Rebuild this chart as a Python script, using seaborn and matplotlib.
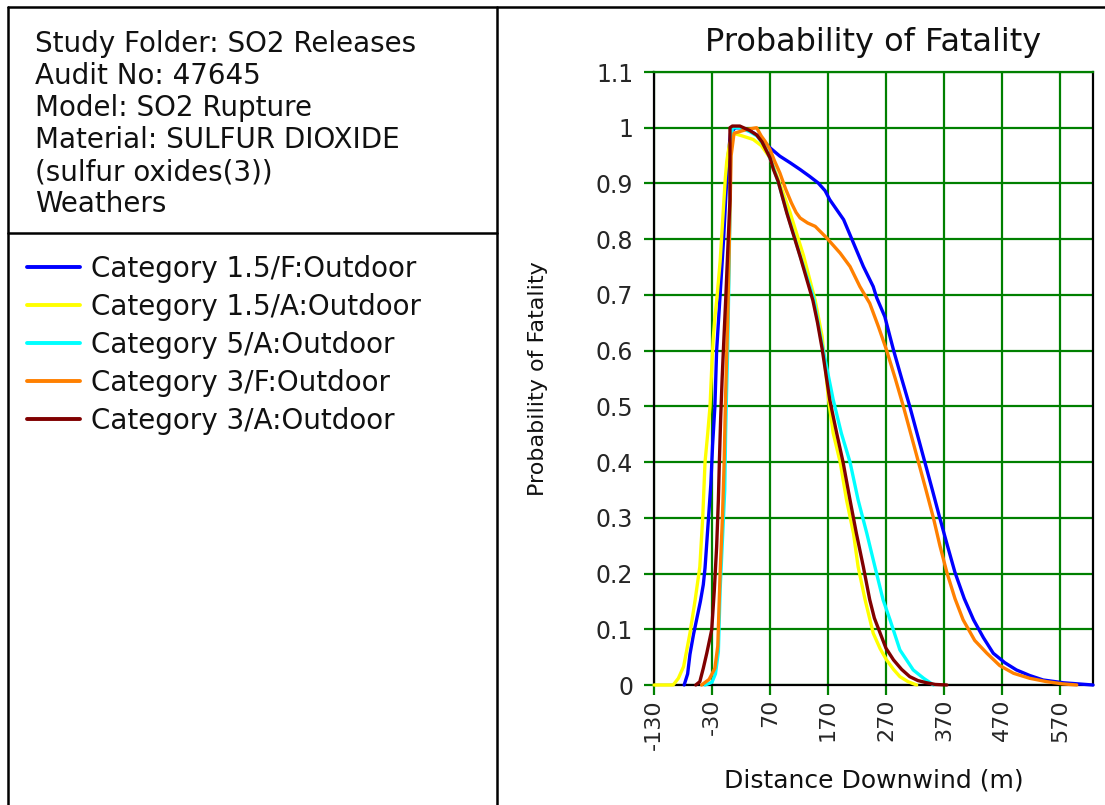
import numpy as np
import pandas as pd
import matplotlib
matplotlib.use("Agg")
import matplotlib.pyplot as plt
from matplotlib.lines import Line2D
import seaborn as sns

# ---------------- data ----------------
series_names = ["Category 1.5/F:Outdoor", "Category 1.5/A:Outdoor",
                "Category 5/A:Outdoor", "Category 3/F:Outdoor",
                "Category 3/A:Outdoor"]
series_colors = ["#0000FF", "#FFFF00", "#00FFFF", "#FF8000", "#800000"]

x_15F = [-78, -72, -68, -62, -56, -50, -45, -42, -36, -32, -29, -25, -22, -19, -16, -13, -10, -6, -2, 2,
         10, 20, 35, 50, 60, 70, 87, 105, 122, 138, 153, 165, 173, 185, 197, 214, 231, 248, 254, 268,
         283, 297, 311, 324, 337, 350, 363, 376, 389, 405, 421, 438, 455, 475, 495, 518, 541, 576, 627]
y_15F = [0.0, 0.02, 0.055, 0.09, 0.12, 0.15, 0.18, 0.21, 0.30, 0.36, 0.43, 0.50, 0.60, 0.65, 0.70, 0.75,
         0.80, 0.88, 0.95, 0.99, 1.0, 1.0, 0.995, 0.985, 0.975, 0.964, 0.949, 0.937, 0.925, 0.913, 0.901,
         0.887, 0.871, 0.853, 0.835, 0.793, 0.751, 0.715, 0.695, 0.661, 0.601, 0.55, 0.50, 0.45, 0.40,
         0.35, 0.299, 0.25, 0.202, 0.155, 0.117, 0.085, 0.057, 0.04, 0.027, 0.017, 0.009, 0.004, 0.0]

x_15A = [-130, -97, -88, -79, -74, -68, -59, -51, -46, -42, -37.5, -33.4, -30, -28, -25, -21, -16, -13,
         -10, -7, -4.5, 0, 7, 20, 41, 55, 70, 85, 104, 128, 148, 160, 171, 179, 191, 202, 214, 222, 234,
         248, 260, 271, 283, 294, 308, 323]
y_15A = [0, 0, 0.012, 0.033, 0.06, 0.093, 0.153, 0.212, 0.30, 0.40, 0.45, 0.50, 0.58, 0.62, 0.66, 0.70,
         0.76, 0.81, 0.86, 0.91, 0.94, 0.97, 0.99, 0.986, 0.979, 0.968, 0.946, 0.905, 0.85, 0.77, 0.69,
         0.625, 0.512, 0.452, 0.40, 0.332, 0.272, 0.212, 0.153, 0.093, 0.065, 0.045, 0.028, 0.015, 0.006, 0.0]

x_5A = [-42, -30, -24, -19, -16, -12, -8, -6.5, -5, -3, -1, 1, 2, 5, 18, 35, 48, 62, 72, 85,
        100, 122, 145, 160, 179, 193, 208, 222, 237, 251, 265, 277, 294, 317, 335, 352]
y_5A = [0, 0.005, 0.02, 0.06, 0.17, 0.26, 0.35, 0.45, 0.52, 0.60, 0.72, 0.85, 0.95, 1.0, 1.0, 0.993,
        0.985, 0.965, 0.94, 0.90, 0.845, 0.77, 0.695, 0.61, 0.512, 0.452, 0.40, 0.332, 0.272, 0.212,
        0.153, 0.117, 0.063, 0.027, 0.012, 0.0]

x_3F = [-48, -35, -25, -20, -16, -12, -9, -7, -5.5, -3, -1, 1, 3, 8, 30, 47, 55, 62, 70, 78,
        87, 97, 107, 115, 122, 135, 148, 168, 191, 208, 225, 242, 257, 271, 286, 300, 313, 326, 339, 352,
        363, 375, 389, 403, 423, 444, 466, 490, 518, 547, 575, 599]
y_3F = [0, 0.01, 0.03, 0.07, 0.2, 0.3, 0.4, 0.5, 0.56, 0.65, 0.75, 0.85, 0.95, 0.99, 0.997, 1.0, 0.985,
        0.975, 0.961, 0.94, 0.919, 0.89, 0.865, 0.848, 0.838, 0.829, 0.823, 0.802, 0.775, 0.751, 0.715,
        0.685, 0.643, 0.601, 0.55, 0.50, 0.45, 0.40, 0.35, 0.299, 0.25, 0.202, 0.155, 0.117, 0.08, 0.057,
        0.035, 0.021, 0.012, 0.006, 0.002, 0.0]

x_3A = [-58, -51, -45, -39, -30.5, -26, -22, -19, -17.3, -15, -12.5, -10.4, -6, -2, 1, 1, 5, 18, 35, 47,
        56, 70, 76, 84, 99, 122, 144, 152, 160, 173, 185, 196, 208, 219, 231, 242, 250, 260, 270, 283,
        297, 311, 325, 340, 355, 375]
y_3A = [0, 0.006, 0.03, 0.057, 0.099, 0.17, 0.248, 0.332, 0.40, 0.48, 0.55, 0.60, 0.70, 0.80, 0.871,
        1.0, 1.003, 1.003, 0.995, 0.987, 0.975, 0.946, 0.925, 0.904, 0.847, 0.769, 0.69, 0.65, 0.603,
        0.512, 0.452, 0.40, 0.332, 0.272, 0.212, 0.153, 0.12, 0.093, 0.066, 0.045, 0.028, 0.015, 0.008,
        0.004, 0.001, 0.0]

xticks = [-130, -30, 70, 170, 270, 370, 470, 570]
xtick_labels = ["-130", "-30", "70", "170", "270", "370", "470", "570"]
yticks = [0, 0.1, 0.2, 0.3, 0.4, 0.5, 0.6, 0.7, 0.8, 0.9, 1.0, 1.1]
ytick_labels = ["0", "0.1", "0.2", "0.3", "0.4", "0.5", "0.6", "0.7", "0.8", "0.9", "1", "1.1"]

info_lines = ["Study Folder: SO2 Releases", "Audit No: 47645", "Model: SO2 Rupture",
              "Material: SULFUR DIOXIDE", "(sulfur oxides(3))", "Weathers"]

title_text = "Probability of Fatality"
xlabel_text = "Distance Downwind (m)"
ylabel_text = "Probability of Fatality"

# ---------------- build table ----------------
all_x = [x_15F, x_15A, x_5A, x_3F, x_3A]
all_y = [y_15F, y_15A, y_5A, y_3F, y_3A]
frames = []
for name, xs, ys in zip(series_names, all_x, all_y):
    frames.append(pd.DataFrame({"x": xs, "y": ys, "series": name}))
df = pd.concat(frames, ignore_index=True)

# ---------------- style ----------------
sns.set_style("white")
plt.rcParams["font.family"] = ["DejaVu Sans"]

W, H = 1105, 805
fig = plt.figure(figsize=(W / 100, H / 100), dpi=100)
fig.patch.set_facecolor("white")

ax_l, ax_r, ax_t, ax_b = 654, 1093, 72, 685
ax = fig.add_axes([ax_l / W, (H - ax_b) / H, (ax_r - ax_l) / W, (ax_b - ax_t) / H])

sns.lineplot(data=df, x="x", y="y", hue="series", hue_order=series_names,
             palette=series_colors, sort=False, estimator=None, units="series",
             legend=False, linewidth=2.4, ax=ax)
for ln in ax.lines:
    ln.set_clip_on(False)
    ln.set_zorder(3)

ax.set_xlim(-130, 627)
ax.set_ylim(0, 1.1)
ax.set_xticks(xticks)
ax.set_xticklabels(xtick_labels, rotation=90, fontsize=16)
ax.set_yticks(yticks)
ax.set_yticklabels(ytick_labels, fontsize=17)
ax.tick_params(axis="both", which="major", length=7, width=1.6, color="#008000",
               direction="out", bottom=True, left=True, pad=3)
ax.tick_params(axis="y", pad=8)

ax.grid(True, color="#008000", linewidth=1.6)
ax.set_axisbelow(True)
for side in ["left", "bottom", "right"]:
    ax.spines[side].set_color("black")
    ax.spines[side].set_linewidth(1.6)
ax.spines["top"].set_color("#008000")
ax.spines["top"].set_linewidth(1.6)

ax.set_title(title_text, fontsize=23, pad=15, color="#111111")
ax.set_xlabel(xlabel_text, fontsize=18, labelpad=14, color="#111111")
ax.set_ylabel(ylabel_text, fontsize=16, labelpad=34, color="#111111")

# ---------------- left panel ----------------
def fx(px):
    return px / W

def fy(py):
    return 1 - py / H

frame_kw = dict(transform=fig.transFigure, color="black", linewidth=1.8)
fig.add_artist(Line2D([fx(8), fx(W)], [fy(7), fy(7)], **frame_kw))
fig.add_artist(Line2D([fx(8), fx(8)], [fy(7), fy(H)], **frame_kw))
fig.add_artist(Line2D([fx(497), fx(497)], [fy(7), fy(H)], **frame_kw))
fig.add_artist(Line2D([fx(8), fx(497)], [fy(233), fy(233)], **frame_kw))

baselines = [52, 84, 116, 148, 180, 212]
for txt, b in zip(info_lines, baselines):
    fig.text(fx(35), fy(b), txt, fontsize=20, va="baseline", ha="left", color="#111111")

handles = [Line2D([0], [0], color=c, linewidth=2.8) for c in series_colors]
fig.legend(handles, series_names, loc="upper left", bbox_to_anchor=(fx(27), fy(255)),
           frameon=False, fontsize=20, handlelength=1.9, handletextpad=0.42,
           labelspacing=0.36, borderpad=0, borderaxespad=0, labelcolor="#111111")

fig.savefig("out.png", dpi=100)
